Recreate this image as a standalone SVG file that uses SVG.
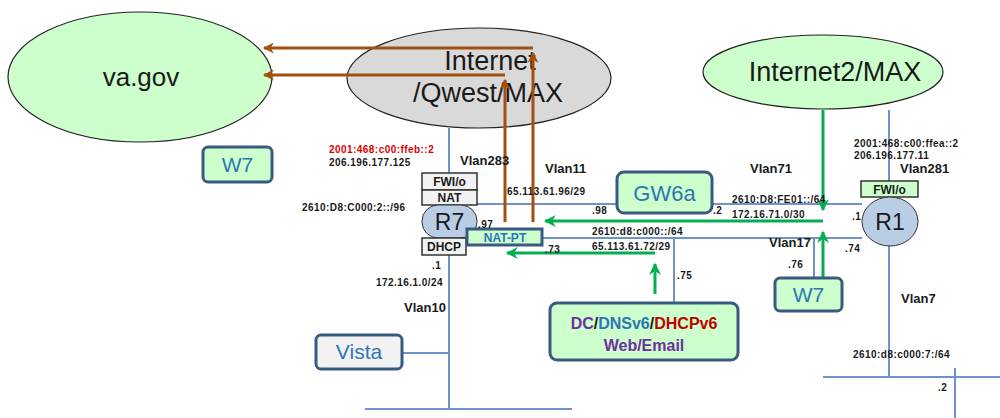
<svg xmlns="http://www.w3.org/2000/svg" width="1000" height="418" viewBox="0 0 1000 418">
<style>
.bl{stroke:#6f93c6;stroke-width:2;fill:none}
.gr{stroke:#00b050;stroke-width:3;fill:none}
.br{stroke:#a3500f;stroke-width:3;fill:none}
.s{font-family:"Liberation Sans",Arial,sans-serif;font-weight:bold;font-size:10px;letter-spacing:0.45px;fill:#1a1a1a}
.v{font-family:"Liberation Sans",Arial,sans-serif;font-weight:bold;font-size:13px;fill:#1a1a1a}
.big{font-family:"Liberation Sans",Arial,sans-serif;font-size:26px;fill:#1a1a1a;text-anchor:middle}
.box{fill:#ccffcc;stroke:#3b5a82;stroke-width:3}
.gbox{fill:#f2f2f2;stroke:#3b5a82;stroke-width:3}
.nm{font-family:"Liberation Sans",Arial,sans-serif;fill:#2e75b6;text-anchor:middle}
.tb{fill:#f2f2f2;stroke:#333;stroke-width:1.5}
.tt{font-family:"Liberation Sans",Arial,sans-serif;font-weight:bold;font-size:12px;fill:#1a1a1a;text-anchor:middle}
.rt{font-family:"Liberation Sans",Arial,sans-serif;font-size:23px;fill:#1a1a1a;text-anchor:middle}
</style>
<defs>
<marker id="ag" viewBox="0 0 10 10" refX="9" refY="5" markerWidth="12" markerHeight="12" markerUnits="userSpaceOnUse" orient="auto">
<path d="M0,0 L10,5 L0,10 L3,5 z" fill="#00b050"/>
</marker>
<marker id="ab" viewBox="0 0 10 10" refX="9" refY="5" markerWidth="11" markerHeight="11" markerUnits="userSpaceOnUse" orient="auto">
<path d="M0,0 L10,5 L0,10 L3,5 z" fill="#a3500f"/>
</marker>
</defs>

<g id="vagov">
<ellipse cx="140" cy="77" rx="132" ry="65" fill="#ccffcc" stroke="#222" stroke-width="1.2"/>
<text class="big" x="141" y="86" font-size="25">va.gov</text>
</g>
<g id="internet-qwest">
<ellipse cx="479" cy="78" rx="132" ry="50" fill="#d9d9d9" stroke="#222" stroke-width="1.2"/>
<text class="big" x="490" y="70" style="font-size:27px">Internet</text>
<text class="big" x="488" y="102" style="font-size:27px">/Qwest/MAX</text>
</g>
<g id="internet2">
<ellipse cx="823" cy="72" rx="120" ry="37" fill="#ccffcc" stroke="#222" stroke-width="1.2"/>
<text class="big" x="835" y="81" style="font-size:27px">Internet2/MAX</text>
</g>

<g id="connectors">
<path class="bl" d="M449,128 V173 M449,255 V409 M365,409 H572 M402,353 H449 M477,204 H862 M543,238 H862 M674,238 V303 M814,238 V278 M889,110 V181 M889,246 V377 M823,377 H1000 M955,368 V418"/>
<path class="br" d="M533,222 V53" marker-end="url(#ab)"/>
<path class="br" d="M533,48 H264" marker-end="url(#ab)"/>
<path class="br" d="M505,222 V80" marker-end="url(#ab)"/>
<path class="br" d="M505,75 H264" marker-end="url(#ab)"/>
<path class="gr" d="M823,110 V210" marker-end="url(#ag)"/>
<path class="gr" d="M823,221 H545" marker-end="url(#ag)"/>
<path class="gr" d="M823,278 V232" marker-end="url(#ag)"/>
<path class="gr" d="M655,294 V264" marker-end="url(#ag)"/>
<path class="gr" d="M655,253 H507" marker-end="url(#ag)"/>
</g>

<g id="r7">
<rect class="tb" x="422" y="173" width="55" height="17"/>
<text class="tt" x="449.5" y="186">FWI/o</text>
<rect class="tb" x="422" y="190" width="55" height="15"/>
<text class="tt" x="449.5" y="202">NAT</text>
<rect x="422" y="205" width="55" height="33" rx="16" fill="#b9cde5" stroke="#333" stroke-width="1"/>
<text class="rt" x="449.5" y="230">R7</text>
<rect class="tb" x="422" y="238" width="44" height="17"/>
<text class="tt" x="444" y="251">DHCP</text>
</g>
<g id="natpt">
<rect x="467" y="229" width="75" height="16" fill="#ccffcc" stroke="#3b5a82" stroke-width="3"/>
<text x="505" y="241.5" font-family="Liberation Sans, Arial, sans-serif" font-weight="bold" font-size="12" fill="#2e75b6" text-anchor="middle">NAT-PT</text>
</g>
<g id="gw6a">
<rect class="box" x="617" y="172" width="95" height="41" rx="7"/>
<text class="nm" x="664.5" y="201" font-size="22">GW6a</text>
</g>
<g id="r1">
<rect x="861" y="181" width="57" height="16" fill="#ccffcc" stroke="#333" stroke-width="1.5"/>
<text class="tt" x="889.5" y="193.5">FWI/o</text>
<text class="s" x="852" y="220">.1</text>
<ellipse cx="890" cy="221.5" rx="28" ry="24.5" fill="#b9cde5" stroke="#333" stroke-width="1"/>
<text class="rt" x="890" y="230">R1</text>
</g>
<g id="w7-left">
<rect class="box" x="203" y="147" width="69" height="35" rx="5"/>
<text class="nm" x="237.5" y="172" font-size="21">W7</text>
</g>
<g id="w7-right">
<rect class="box" x="775" y="278" width="67" height="33" rx="5"/>
<text class="nm" x="808.5" y="302" font-size="21">W7</text>
</g>
<g id="vista">
<rect class="gbox" x="316" y="335" width="86" height="34" rx="5"/>
<text class="nm" x="359" y="359" font-size="21">Vista</text>
</g>
<g id="dc">
<rect class="box" x="550" y="303" width="188" height="57" rx="7"/>
<text x="644" y="329" font-family="Liberation Sans, Arial, sans-serif" font-weight="bold" font-size="16" text-anchor="middle"><tspan fill="#7030a0">DC</tspan><tspan fill="#1a1a1a">/</tspan><tspan fill="#2e75b6">DNSv6</tspan><tspan fill="#1a1a1a">/</tspan><tspan fill="#c00000">DHCPv6</tspan></text>
<text x="644" y="351" font-family="Liberation Sans, Arial, sans-serif" font-weight="bold" font-size="16" fill="#7030a0" text-anchor="middle">Web/Email</text>
</g>

<g id="labels">
<text class="s" x="329" y="153" style="fill:#e00000">2001:468:c00:ffeb::2</text>
<text class="s" x="329" y="166">206.196.177.125</text>
<text class="s" x="302" y="211">2610:D8:C000:2::/96</text>
<text class="v" x="460" y="165">Vlan283</text>
<text class="v" x="545" y="173">Vlan11</text>
<text class="s" x="507" y="195">65.113.61.96/29</text>
<text class="s" x="478" y="228">.97</text>
<text class="s" x="592" y="214">.98</text>
<text class="s" x="713" y="214">.2</text>
<text class="s" x="592" y="235">2610:d8:c000::/64</text>
<text class="s" x="592" y="250">65.113.61.72/29</text>
<text class="s" x="545" y="253">.73</text>
<text class="s" x="677" y="279">.75</text>
<text class="s" x="432" y="269">.1</text>
<text class="s" x="376" y="286">172.16.1.0/24</text>
<text class="v" x="404" y="312">Vlan10</text>
<text class="v" x="750" y="173">Vlan71</text>
<text class="s" x="732" y="203">2610:D8:FE01::/64</text>
<text class="s" x="732" y="218">172.16.71.0/30</text>
<text class="v" x="769" y="247">Vlan17</text>
<text class="s" x="788" y="268">.76</text>
<text class="s" x="845" y="252">.74</text>
<text class="s" x="854" y="147">2001:468:c00:ffea::2</text>
<text class="s" x="854" y="159">206.196.177.11</text>
<text class="v" x="900" y="173">Vlan281</text>
<text class="v" x="901" y="303">Vlan7</text>
<text class="s" x="853" y="358">2610:d8:c000:7:/64</text>
<text class="s" x="938" y="391">.2</text>
</g>
</svg>
